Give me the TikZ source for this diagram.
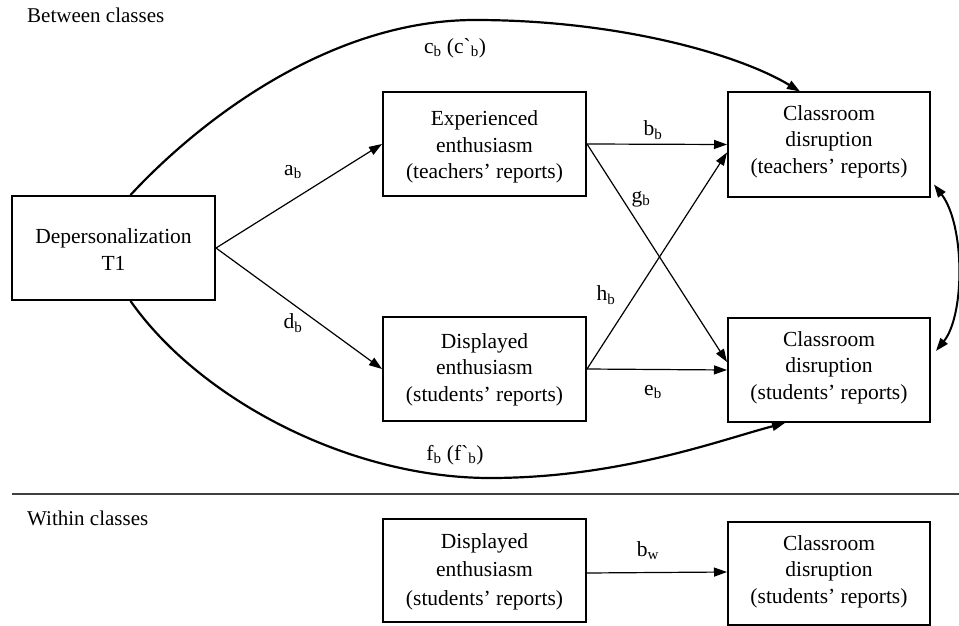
\documentclass[tikz,border=0pt]{standalone}
\usepackage{fontspec}
\setmainfont{Liberation Serif}
\usetikzlibrary{arrows.meta,calc}
\newcommand{\sbx}[2]{#1\textsubscript{#2}}
\begin{document}
\begin{tikzpicture}[x=1pt,y=-1pt,
  box/.style={draw, line width=2pt, align=center, inner sep=0pt,
    minimum width=203pt, minimum height=104pt, text depth=5pt,
    font=\fontsize{21.5}{26.5}\selectfont},
  conn/.style={line width=1.2pt, -{Triangle[length=13pt,width=9pt]}},
  curv/.style={line width=2.2pt, -{Triangle[length=13pt,width=9pt]}},
  dcurv/.style={line width=2pt, {Triangle[length=13pt,width=9pt]}-{Triangle[length=13pt,width=9pt]}},
  lab/.style={font=\fontsize{21.5}{26}\selectfont, inner sep=0pt},
  head/.style={font=\fontsize{21}{26}\selectfont, anchor=base west, inner sep=0pt}]
\useasboundingbox (0,0) rectangle (959,626);
\fill[white] (0,0) rectangle (959,626);

\node[head] (hb) at (27,23) {Between classes};
\node[head] (hw) at (27,525) {Within classes};
\coordinate (sepL) at (12,494);
\coordinate (sepR) at (959,494);
\draw[line width=1.2pt, black!75] (sepL) -- (sepR);

\node[box, text height=49pt, font=\fontsize{21.5}{27}\selectfont] (Dep) at (113.5,248) {Depersonalization\\T1};
\node[box, text height=74pt] (Exp) at (484.5,144) {Experienced\\enthusiasm\\(teachers’ reports)};
\node[box, text height=62pt, minimum width=202pt] (CT) at (829,144.5) {Classroom\\disruption\\(teachers’ reports)};
\node[box, text height=69pt] (Dis) at (484.5,369) {Displayed\\enthusiasm\\(students’ reports)};
\node[box, text height=63pt, minimum width=202pt] (CS) at (829,370) {Classroom\\disruption\\(students’ reports)};
\node[box, text height=74pt, minimum height=103pt, font=\fontsize{21.5}{28.3}\selectfont] (DisW) at (484.5,570.5) {Displayed\\enthusiasm\\(students’ reports)};
\node[box, text height=64pt, minimum width=202pt, minimum height=103pt] (CSW) at (829,573.5) {Classroom\\disruption\\(students’ reports)};

\draw[conn] (Dep.east) -- (Exp.west);
\draw[conn] (Dep.east) -- (Dis.west);
\draw[conn] (Exp.east) -- (CT.west);
\draw[conn] (Exp.east) -- ([yshift=8pt]CS.west);
\draw[conn] (Dis.east) -- ([yshift=-8pt]CT.west);
\draw[conn] (Dis.east) -- (CS.west);
\draw[conn] ([yshift=-2.5pt]DisW.east) -- ([yshift=1.5pt]CSW.west);

\draw[curv] ([xshift=17pt]Dep.north) .. controls (200,120) and (330,20) .. (475,20)
  .. controls (620,20) and (740,55) .. ([xshift=-29pt]CT.north);
\draw[curv] ([xshift=17pt]Dep.south) .. controls (200,400) and (350,478) .. (490,478)
  .. controls (620,478) and (720,440) .. ([xshift=-44pt]CS.south);
\draw[dcurv] ([xshift=3pt,yshift=13pt]CT.south east) .. controls (965,225) and (965,315) .. ([xshift=5pt,yshift=-34pt]CS.north east);

\node[lab] (la) at (293,172) {\sbx{a}{b}};
\node[lab] (ld) at (293,323) {\sbx{d}{b}};
\node[lab] (lb) at (653,130) {\sbx{b}{b}};
\node[lab] (lg) at (641,199) {\sbx{g}{b}};
\node[lab] (lh) at (606,295) {\sbx{h}{b}};
\node[lab] (le) at (653,392) {\sbx{e}{b}};
\node[lab] (lc) at (455,48) {\sbx{c}{b} (c\textasciigrave\textsubscript{b})};
\node[lab] (lf) at (455,455) {\sbx{f}{b} (f\textasciigrave\textsubscript{b})};
\node[lab] (lw) at (648,551) {\sbx{b}{w}};
\end{tikzpicture}
\end{document}
